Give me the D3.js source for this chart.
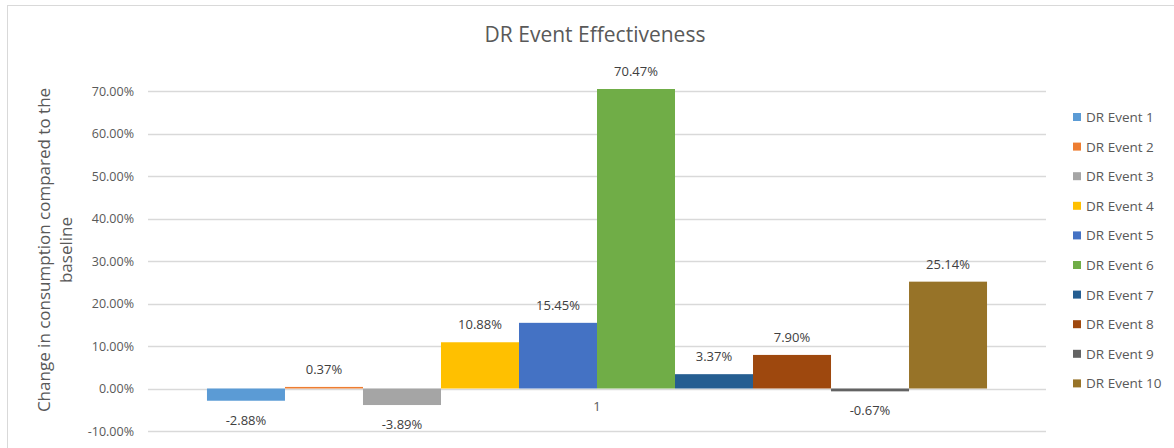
<!DOCTYPE html>
<html>
<head>
<meta charset="utf-8">
<script src="https://cdn.jsdelivr.net/npm/d3@7"></script>
<style>
  html, body { margin: 0; padding: 0; background: #fff; }
  svg { display: block; font-family: "Open Sans", "Noto Sans", sans-serif; }
</style>
</head>
<body>
<svg id="chart" width="1174" height="448"></svg>
<script>
// Chart data
const categories = ["1"];
const seriesNames = ["DR Event 1", "DR Event 2", "DR Event 3", "DR Event 4", "DR Event 5",
                     "DR Event 6", "DR Event 7", "DR Event 8", "DR Event 9", "DR Event 10"];
const seriesValues = [-2.88, 0.37, -3.89, 10.88, 15.45, 70.47, 3.37, 7.90, -0.67, 25.14];
const seriesColors = ["#5B9BD5", "#ED7D31", "#A5A5A5", "#FFC000", "#4472C4",
                      "#70AD47", "#255E91", "#9E480E", "#636363", "#977328"];
const yTicks = [-10, 0, 10, 20, 30, 40, 50, 60, 70];

const svg = d3.select("#chart");
const W = 1174, H = 448;

// Chart frame
svg.append("rect")
  .attr("x", 7.5).attr("y", 5.5).attr("width", W - 6).attr("height", H - 4)
  .attr("fill", "#fff").attr("stroke", "#d9d9d9").attr("stroke-width", 1);

const plot = { left: 148, right: 1046, top: 91, bottom: 431 };

const y = d3.scaleLinear().domain([-10, 70]).range([plot.bottom, plot.top]);
const x0 = d3.scaleBand().domain(categories).range([plot.left, plot.right])
  .paddingInner(0).paddingOuter(0.0756);
const x1 = d3.scaleBand().domain(seriesNames).range([0, x0.bandwidth()]).padding(0);

// Gridlines
svg.append("g")
  .selectAll("line").data(yTicks).join("line")
  .attr("x1", plot.left).attr("x2", plot.right)
  .attr("y1", d => Math.round(y(d)) + 0.5).attr("y2", d => Math.round(y(d)) + 0.5)
  .attr("stroke", "#d9d9d9").attr("stroke-width", 1.3);

// Y axis labels
const yAxis = d3.axisLeft(y).tickValues(yTicks)
  .tickFormat(d => d.toFixed(2) + "%").tickSize(0).tickPadding(0);
const gy = svg.append("g").attr("transform", `translate(${plot.left - 14},0)`).call(yAxis);
gy.select(".domain").remove();
gy.selectAll("text").attr("fill", "#595959").attr("font-size", 12.5)
  .attr("font-family", "'Open Sans', sans-serif");

// Bars
const groups = svg.append("g").selectAll("g").data(categories).join("g")
  .attr("transform", d => `translate(${x0(d)},0)`);

groups.selectAll("rect")
  .data(() => seriesNames.map((n, i) => ({ name: n, value: seriesValues[i], color: seriesColors[i] })))
  .join("rect")
  .attr("x", d => x1(d.name))
  .attr("width", x1.bandwidth())
  .attr("y", d => y(Math.max(0, d.value)))
  .attr("height", d => Math.max(1.5, Math.abs(y(d.value) - y(0))))
  .attr("fill", d => d.color);

// Data labels
groups.selectAll("text.lbl")
  .data(() => seriesNames.map((n, i) => ({ name: n, value: seriesValues[i] })))
  .join("text")
  .attr("class", "lbl")
  .attr("x", d => x1(d.name) + x1.bandwidth() / 2)
  .attr("y", d => d.value >= 0 ? y(d.value) - 13 : y(d.value) + 24)
  .attr("text-anchor", "middle")
  .attr("fill", "#404040")
  .attr("font-size", 13)
  .text(d => d.value.toFixed(2) + "%");

// Category axis label
const xAxis = d3.axisBottom(x0).tickSize(0).tickPadding(0);
const gx = svg.append("g").attr("transform", `translate(0,${y(0) + 13})`).call(xAxis);
gx.select(".domain").remove();
gx.selectAll("text").attr("fill", "#595959").attr("font-size", 13)
  .attr("font-family", "'Open Sans', sans-serif");

// Title
svg.append("text")
  .attr("x", 595).attr("y", 42)
  .attr("text-anchor", "middle")
  .attr("fill", "#595959")
  .attr("font-size", 21)
  .text("DR Event Effectiveness");

// Y axis title (two lines)
const yTitle = svg.append("text")
  .attr("transform", `translate(0,250) rotate(-90)`)
  .attr("text-anchor", "middle")
  .attr("fill", "#595959")
  .attr("font-size", 17);
yTitle.append("tspan").attr("x", 0).attr("y", 50).text("Change in consumption compared to the");
yTitle.append("tspan").attr("x", 0).attr("y", 72).text("baseline");

// Legend
const legend = svg.append("g").selectAll("g").data(seriesNames).join("g")
  .attr("transform", (d, i) => `translate(1073,${117 + i * 29.6})`);
legend.append("rect")
  .attr("x", 0).attr("y", -4).attr("width", 8).attr("height", 8)
  .attr("fill", (d, i) => seriesColors[i]);
legend.append("text")
  .attr("x", 13).attr("y", 5)
  .attr("fill", "#595959")
  .attr("font-size", 13.5)
  .text(d => d);
</script>
</body>
</html>
